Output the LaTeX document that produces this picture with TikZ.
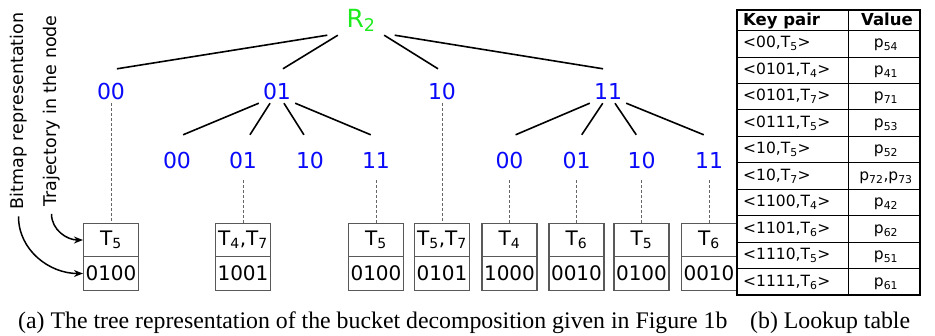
\documentclass[tikz,border=0pt]{standalone}
\usepackage{fontspec}
\setmainfont{DejaVu Sans}
\newfontfamily\capfont{Liberation Serif}
\usetikzlibrary{arrows.meta}
\definecolor{rootgreen}{RGB}{30,235,30}
\definecolor{labblue}{RGB}{10,10,250}

\begin{document}
\begin{tikzpicture}[x=1pt,y=1pt]
        \tikzstyle{root} = [text=rootgreen, font=\fontsize{25}{30}\selectfont, inner xsep=19pt, inner ysep=4pt, text height=20pt, text depth=4pt]
        \tikzstyle{l1} = [text=labblue, font=\fontsize{22}{26}\selectfont, inner sep=4pt, text height=26pt, text depth=0pt, minimum width=35pt]
        \tikzstyle{l2} = [text=labblue, font=\fontsize{22}{26}\selectfont, inner sep=4pt, text height=29pt, text depth=8pt, minimum width=35pt]
        \tikzstyle{cell} = [draw=black!65, line width=1.1pt, font=\fontsize{20}{24}\selectfont, minimum width=55pt, minimum height=33.5pt, inner xsep=1pt]
        \tikzstyle{side} = [rotate=90, font=\fontsize{17.5}{21}\selectfont, inner xsep=7pt, inner ysep=0pt]
        \tikzstyle{tk} = [font=\fontsize{15.5}{18}\selectfont, inner sep=0pt, text height=11.5pt, text depth=3pt]
        \tikzstyle{th} = [font=\fontsize{16.5}{19}\selectfont\bfseries, inner sep=0pt, text height=12pt, text depth=3pt]
        \tikzstyle{captext} = [font=\capfont\fontsize{23.8}{28}\selectfont, inner sep=0pt, anchor=base west]
        \tikzstyle{edg} = [line width=1.6pt]
        \tikzstyle{dsh} = [black!60, line width=0.9pt, dash pattern=on 3pt off 2pt]
        \tikzstyle{arr} = [line width=1.5pt, -{Stealth[length=9pt,width=7pt]}]
        \tikzstyle{tl} = [line width=0.8pt]
        \useasboundingbox (0,0) rectangle (935,-335);

        % tree
        \node[root, anchor=base](r) at (361,-27){R\textsubscript{2}};
        \node[l1, anchor=base](a00) at (111,-99){00};
        \node[l1, anchor=base](a01) at (277,-99){01};
        \node[l1, anchor=base](a10) at (442,-99){10};
        \node[l1, anchor=base](a11) at (608,-99){11};
        \node[l2, anchor=base](b00) at (177,-168){00};
        \node[l2, anchor=base](b01) at (243,-168){01};
        \node[l2, anchor=base](b10) at (310,-168){10};
        \node[l2, anchor=base](b11) at (376,-168){11};
        \node[l2, anchor=base](c00) at (509.5,-168){00};
        \node[l2, anchor=base](c01) at (576.5,-168){01};
        \node[l2, anchor=base](c10) at (641.5,-168){10};
        \node[l2, anchor=base](c11) at (709,-168){11};

        \draw[edg](r.south west) -- (a00.71);
        \draw[edg](r.215) -- (a01.71);
        \draw[edg](r.325) -- (a10.103);
        \draw[edg](r.south east) -- (a11.106);
        \draw[edg](a01.south west) -- (b00.75);
        \draw[edg](a01.248) -- (b01.73);
        \draw[edg](a01.292) -- (b10.105);
        \draw[edg](a01.south east) -- (b11.103);
        \draw[edg](a11.south west) -- (c00.75);
        \draw[edg](a11.253) -- (c01.77);
        \draw[edg](a11.292) -- (c10.103);
        \draw[edg](a11.south east) -- (c11.103);

        % buckets
        \node[cell](tr1) at (111,-240){T\textsubscript{5}};
        \node[cell](bm1) at (111,-273.5){0100};
        \node[cell](tr2) at (243,-240){T\textsubscript{4},T\textsubscript{7}};
        \node[cell](bm2) at (243,-273.5){1001};
        \node[cell](tr3) at (376,-240){T\textsubscript{5}};
        \node[cell](bm3) at (376,-273.5){0100};
        \node[cell](tr4) at (442,-240){T\textsubscript{5},T\textsubscript{7}};
        \node[cell](bm4) at (442,-273.5){0101};
        \node[cell](tr5) at (509.5,-240){T\textsubscript{4}};
        \node[cell](bm5) at (509.5,-273.5){1000};
        \node[cell](tr6) at (576.5,-240){T\textsubscript{6}};
        \node[cell](bm6) at (576.5,-273.5){0010};
        \node[cell](tr7) at (641.5,-240){T\textsubscript{5}};
        \node[cell](bm7) at (641.5,-273.5){0100};
        \node[cell](tr8) at (709,-240){T\textsubscript{6}};
        \node[cell](bm8) at (709,-273.5){0010};

        \draw[dsh](a00.south) -- (tr1.north);
        \draw[dsh](b01.south) -- (tr2.north);
        \draw[dsh](b11.south) -- (tr3.north);
        \draw[dsh](a10.south) -- (tr4.north);
        \draw[dsh](c00.south) -- (tr5.north);
        \draw[dsh](c01.south) -- (tr6.north);
        \draw[dsh](c10.south) -- (tr7.north);
        \draw[dsh](c11.south) -- (tr8.north);

        % side labels
        \node[side](bmp) at (18.5,-111){Bitmap representation};
        \node[side](trj) at (51.5,-111){Trajectory in the node};
        \draw[arr](trj.west) to[out=-90, in=180] (tr1.west);
        \draw[arr](bmp.west) to[out=-90, in=180] (bm1.west);

        % lookup table
        \draw[line width=1.3pt](737,-10) rectangle (920,-295);
        \draw[tl](848,-10) -- (848,-295);
        \draw[tl](737,-30.5) -- (920,-30.5);
        \draw[tl](737,-56.95) -- (920,-56.95);
        \draw[tl](737,-83.4) -- (920,-83.4);
        \draw[tl](737,-109.85) -- (920,-109.85);
        \draw[tl](737,-136.3) -- (920,-136.3);
        \draw[tl](737,-162.75) -- (920,-162.75);
        \draw[tl](737,-189.2) -- (920,-189.2);
        \draw[tl](737,-215.65) -- (920,-215.65);
        \draw[tl](737,-242.1) -- (920,-242.1);
        \draw[tl](737,-268.55) -- (920,-268.55);

        \node[th, anchor=west](kh) at (743,-20.5){Key pair};
        \node[th](vh) at (887,-20.5){Value};
        \node[tk, anchor=west](k1) at (743,-43.7){<00,T\textsubscript{5}>};
        \node[tk](v1) at (886,-43.7){p\textsubscript{54}};
        \node[tk, anchor=west](k2) at (743,-70.2){<0101,T\textsubscript{4}>};
        \node[tk](v2) at (886,-70.2){p\textsubscript{41}};
        \node[tk, anchor=west](k3) at (743,-96.6){<0101,T\textsubscript{7}>};
        \node[tk](v3) at (886,-96.6){p\textsubscript{71}};
        \node[tk, anchor=west](k4) at (743,-123.1){<0111,T\textsubscript{5}>};
        \node[tk](v4) at (886,-123.1){p\textsubscript{53}};
        \node[tk, anchor=west](k5) at (743,-149.5){<10,T\textsubscript{5}>};
        \node[tk](v5) at (886,-149.5){p\textsubscript{52}};
        \node[tk, anchor=west](k6) at (743,-176){<10,T\textsubscript{7}>};
        \node[tk](v6) at (886,-176){p\textsubscript{72},p\textsubscript{73}};
        \node[tk, anchor=west](k7) at (743,-202.4){<1100,T\textsubscript{4}>};
        \node[tk](v7) at (886,-202.4){p\textsubscript{42}};
        \node[tk, anchor=west](k8) at (743,-228.9){<1101,T\textsubscript{6}>};
        \node[tk](v8) at (886,-228.9){p\textsubscript{62}};
        \node[tk, anchor=west](k9) at (743,-255.3){<1110,T\textsubscript{5}>};
        \node[tk](v9) at (886,-255.3){p\textsubscript{51}};
        \node[tk, anchor=west](k10) at (743,-281.8){<1111,T\textsubscript{6}>};
        \node[tk](v10) at (886,-281.8){p\textsubscript{61}};

        % captions
        \node[captext](capa) at (18,-328){(a) The tree representation of the bucket decomposition given in Figure 1b};
        \node[captext](capb) at (750,-328){(b) Lookup table};
    \end{tikzpicture}
\end{document}
